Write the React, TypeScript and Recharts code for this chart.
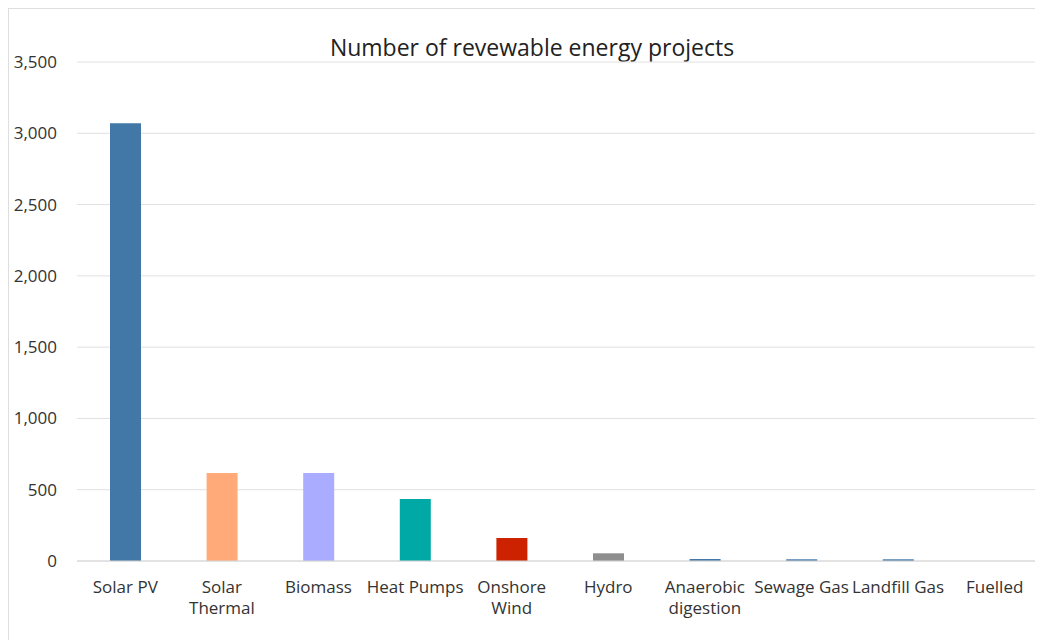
import { BarChart, Bar, XAxis, YAxis, CartesianGrid, Cell } from "recharts";

const categories = [
  "Solar PV",
  "Solar Thermal",
  "Biomass",
  "Heat Pumps",
  "Onshore Wind",
  "Hydro",
  "Anaerobic digestion",
  "Sewage Gas",
  "Landfill Gas",
  "Fuelled",
];

const projectCounts = [3070, 617, 617, 435, 161, 54, 14, 12, 12, 0];

// how the axis labels wrap in the original
const tickLines = [
  ["Solar PV"],
  ["Solar", "Thermal"],
  ["Biomass"],
  ["Heat Pumps"],
  ["Onshore", "Wind"],
  ["Hydro"],
  ["Anaerobic", "digestion"],
  ["Sewage Gas"],
  ["Landfill Gas"],
  ["Fuelled"],
];

const yTicks = [0, 500, 1000, 1500, 2000, 2500, 3000, 3500];

const barColors = [
  "#4178A8",
  "#FFAA78",
  "#A9ACFF",
  "#00A9A6",
  "#CC2200",
  "#8E8E8E",
  "#4178A8",
  "#4178A8",
  "#4178A8",
  "#4178A8",
];

const data = categories.map((name, i) => ({ name, count: projectCounts[i] }));

const font = "'Open Sans', sans-serif";

const CategoryTick = (props: any) => {
  const { x, y, payload } = props;
  const lines = tickLines[payload.index] ?? [payload.value];
  return (
    <text x={x} y={y} textAnchor="middle" fill="#333" fontSize={17} fontFamily={font}>
      {lines.map((l: string, i: number) => (
        <tspan key={i} x={x} dy={i === 0 ? 30 : 21}>
          {l}
        </tspan>
      ))}
    </text>
  );
};

export default function App() {
  return (
    <div
      style={{
        position: "relative",
        width: 1035,
        height: 632,
        boxSizing: "border-box",
        borderTop: "1px solid #dedede",
        borderLeft: "1px solid #dedede",
        background: "#fff",
        fontFamily: font,
      }}
    >
      <div
        style={{
          position: "absolute",
          top: 22,
          left: 0,
          width: 1046,
          textAlign: "center",
          fontSize: 23,
          color: "#222",
        }}
      >
        Number of revewable energy projects
      </div>
      <BarChart
        width={1034}
        height={631}
        data={data}
        margin={{ top: 53, right: 0, bottom: 0, left: 0 }}
        barSize={31}
      >
        <CartesianGrid vertical={false} stroke="#e0e0e0" />
        <XAxis
          dataKey="name"
          height={79}
          interval={0}
          tickLine={false}
          tickSize={0}
          stroke="#d6d6d6"
          tick={<CategoryTick />}
        />
        <YAxis
          width={68}
          domain={[0, 3500]}
          ticks={yTicks}
          axisLine={false}
          tickLine={false}
          tickSize={0}
          tickMargin={20}
          tick={{ fill: "#333", fontSize: 17, fontFamily: font }}
          tickFormatter={(v: number) => v.toLocaleString("en-US")}
        />
        <Bar dataKey="count" isAnimationActive={false}>
          {data.map((_, i) => (
            <Cell key={i} fill={barColors[i]} />
          ))}
        </Bar>
      </BarChart>
    </div>
  );
}
